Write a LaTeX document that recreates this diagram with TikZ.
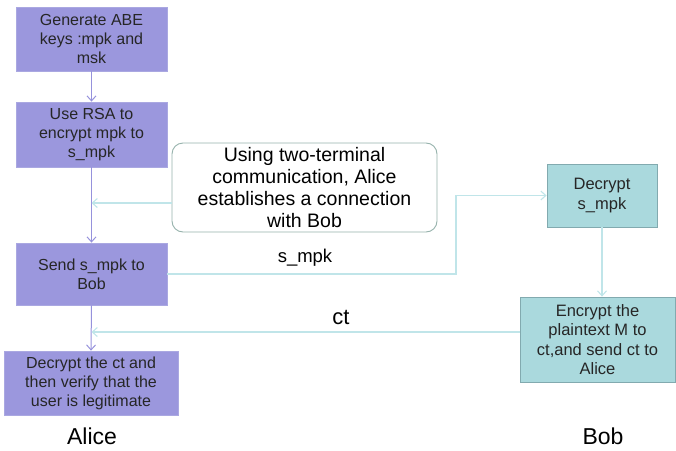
\documentclass[tikz,border=0pt]{standalone}
\usepackage{fontspec}
\setmainfont{Liberation Sans}
\usetikzlibrary{arrows.meta}
\definecolor{alicefill}{RGB}{155,151,221}
\definecolor{aliceline}{RGB}{170,168,225}
\definecolor{alicearrow}{RGB}{150,146,220}
\definecolor{bobfill}{RGB}{170,217,221}
\definecolor{bobline}{RGB}{130,170,175}
\definecolor{linkline}{RGB}{192,229,233}
\definecolor{roundline}{RGB}{150,178,172}
\tikzset{
  x=1pt, y=-1pt,
  alicebox/.style={draw=aliceline, line width=0.8pt, fill=alicefill, align=center,
    inner sep=0pt, font=\fontsize{16}{19}\selectfont, text=black!85},
  bobbox/.style={draw=bobline, line width=0.8pt, fill=bobfill, align=center,
    inner sep=0pt, font=\fontsize{16.5}{19.5}\selectfont, text=black!85},
  notebox/.style={draw=roundline, line width=0.9pt, fill=white, rounded corners=11pt,
    align=center, inner sep=0pt, font=\fontsize{19.5}{22}\selectfont},
  aarrow/.style={draw=alicearrow, line width=1pt, -{Straight Barb[length=5pt,width=9pt]}},
  larrow/.style={draw=linkline, line width=1.1pt, -{Straight Barb[length=5pt,width=9pt]}},
  lbl/.style={inner sep=0pt}
}
\begin{document}
\begin{tikzpicture}
\useasboundingbox (0,0) rectangle (676,450);
\node[alicebox, minimum width=151pt, minimum height=64pt] (a1) at (91.5,39) {Generate ABE\\keys :mpk and\\msk};
\node[alicebox, minimum width=151pt, minimum height=65pt] (a2) at (91.5,134.5) {Use RSA to\\encrypt mpk to\\s\_mpk};
\node[alicebox, minimum width=151pt, minimum height=62pt] (a3) at (91.5,274) {Send s\_mpk to\\Bob};
\node[alicebox, minimum width=174pt, minimum height=64pt] (a4) at (91,383) {Decrypt the ct and\\then verify that the\\user is legitimate};
\node[notebox, minimum width=265pt, minimum height=89pt] (n) at (304.5,187.5) {Using two-terminal\\communication, Alice\\establishes a connection\\with Bob};
\node[bobbox, minimum width=110pt, minimum height=63pt] (b1) at (602,195.5) {Decrypt\\s\_mpk};
\node[bobbox, minimum width=155pt, minimum height=85pt] (b2) at (597.5,339.5) {Encrypt the\\plaintext M to\\ct,and send ct to\\Alice};

\coordinate (c1) at (91.5,203);
\coordinate (c2) at (456,274);
\coordinate (c3) at (91.5,332);

\draw[aarrow] (a1.south) -- (a2.north);
\draw[aarrow] (a2.south) -- (a3.north);
\draw[aarrow] (a3.south) -- (a4.north);
\draw[larrow] (n.west |- c1) -- (c1);
\draw[larrow] (a3.east) -- (c2) |- (b1.west);
\draw[larrow] (b1.south) -- (b1.south |- b2.north);
\draw[larrow] (b2.west |- c3) -- (c3);

\node[lbl, font=\fontsize{18.5}{20}\selectfont] (ls) at (305,258) {s\_mpk};
\node[lbl, font=\fontsize{22}{24}\selectfont] (lc) at (341,317) {ct};
\node[lbl, font=\fontsize{23}{25}\selectfont] (la) at (92,436) {Alice};
\node[lbl, font=\fontsize{23}{25}\selectfont] (lb) at (603,436) {Bob};
\end{tikzpicture}
\end{document}
